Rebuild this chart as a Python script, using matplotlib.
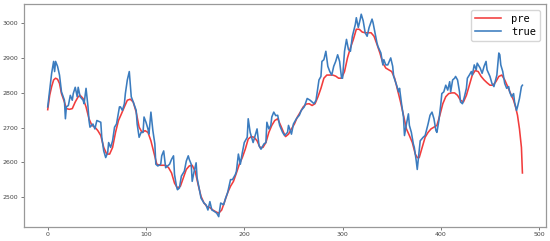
import matplotlib
matplotlib.use("Agg")
import matplotlib.pyplot as plt

# true series (index, value)
true_x = [0, 2, 4, 6, 7, 8, 10, 12, 14, 17, 18, 19, 21, 23, 25, 26, 28, 30, 31, 33, 36, 37, 39, 41, 42, 43, 46, 48, 50, 54,
          55, 57, 59, 61, 62, 64, 66, 68, 70, 73, 74, 76, 78, 79, 81, 83, 85, 87, 90, 91, 93, 95, 97, 98, 100, 102, 103, 105, 107, 109,
          110, 112, 115, 116, 118, 120, 122, 124, 126, 128, 129, 131, 132, 134, 136, 139, 141, 143, 144, 146, 147, 149, 151, 152, 155, 156, 159, 161, 163, 165,
          167, 169, 172, 174, 176, 179, 181, 183, 186, 188, 191, 192, 194, 196, 198, 200, 203, 204, 206, 209, 211, 213, 215, 217, 220, 222, 223, 225, 227, 228,
          230, 232, 234, 236, 239, 241, 244, 245, 248, 250, 253, 256, 258, 261, 264, 267, 269, 271, 273, 276, 278, 279, 281, 283, 285, 287, 289, 291, 293, 295,
          297, 299, 300, 302, 304, 306, 308, 310, 313, 314, 316, 318, 319, 321, 323, 325, 327, 330, 331, 333, 335, 336, 339, 341, 342, 344, 346, 349, 351, 352,
          355, 357, 358, 360, 362, 363, 365, 367, 368, 370, 372, 373, 375, 376, 378, 379, 382, 384, 387, 389, 391, 393, 395, 396, 398, 400, 401, 403, 405, 407,
          409, 410, 412, 414, 415, 417, 419, 420, 422, 424, 426, 427, 429, 431, 432, 434, 436, 437, 440, 442, 444, 446, 447, 450, 452, 454, 457, 459, 460, 461,
          463, 465, 467, 469, 470, 472, 474, 475, 477, 478, 480, 482, 483]
true_y = [2759, 2807, 2855, 2889, 2860, 2889, 2875, 2850, 2802, 2778, 2725, 2759, 2763, 2792, 2778, 2797, 2815, 2788, 2815, 2788, 2778, 2768, 2812, 2759, 2720, 2701, 2710, 2696, 2720, 2715,
          2672, 2633, 2614, 2628, 2657, 2643, 2662, 2701, 2710, 2759, 2759, 2749, 2768, 2797, 2836, 2860, 2788, 2773, 2749, 2710, 2672, 2686, 2686, 2730, 2715, 2696, 2681, 2744, 2691, 2653,
          2595, 2590, 2595, 2619, 2633, 2585, 2590, 2595, 2609, 2619, 2566, 2532, 2522, 2527, 2561, 2575, 2604, 2619, 2609, 2595, 2546, 2575, 2599, 2556, 2513, 2498, 2484, 2479, 2464, 2488,
          2464, 2461, 2455, 2445, 2484, 2479, 2498, 2513, 2551, 2551, 2566, 2575, 2624, 2595, 2628, 2657, 2672, 2725, 2686, 2657, 2677, 2696, 2648, 2638, 2653, 2657, 2715, 2696, 2706, 2730,
          2744, 2734, 2735, 2706, 2686, 2677, 2686, 2706, 2681, 2710, 2725, 2735, 2749, 2759, 2783, 2778, 2773, 2768, 2778, 2836, 2846, 2889, 2894, 2918, 2875, 2860, 2850, 2875, 2889, 2908,
          2889, 2841, 2841, 2918, 2952, 2923, 2918, 2961, 2995, 3014, 2986, 3010, 3024, 3005, 2971, 2961, 2986, 3010, 3000, 2971, 2942, 2932, 2913, 2879, 2894, 2879, 2879, 2899, 2875, 2846,
          2821, 2802, 2812, 2768, 2730, 2677, 2710, 2739, 2706, 2686, 2653, 2643, 2604, 2580, 2633, 2662, 2672, 2677, 2710, 2735, 2744, 2725, 2691, 2686, 2720, 2768, 2797, 2802, 2821, 2807,
          2831, 2802, 2836, 2841, 2846, 2836, 2802, 2773, 2768, 2788, 2812, 2841, 2850, 2860, 2850, 2879, 2865, 2884, 2870, 2855, 2875, 2889, 2865, 2846, 2826, 2817, 2850, 2913, 2908, 2879,
          2860, 2826, 2812, 2817, 2802, 2788, 2797, 2773, 2749, 2759, 2783, 2817, 2821]

# predicted series (index, value)
pre_x = [0, 2, 4, 6, 8, 10, 12, 14, 17, 19, 22, 25, 28, 31, 33, 36, 39, 42, 45, 48, 51, 54, 57, 60, 63, 66, 69, 72, 75, 78,
         81, 84, 87, 90, 93, 96, 99, 102, 105, 108, 111, 114, 117, 120, 123, 126, 129, 132, 135, 138, 141, 144, 147, 150, 153, 156, 159, 162, 165, 168,
         171, 174, 177, 180, 183, 186, 189, 192, 195, 198, 201, 204, 207, 210, 213, 216, 219, 222, 225, 228, 231, 234, 237, 240, 242, 245, 248, 251, 254, 257,
         260, 263, 266, 269, 272, 275, 278, 281, 284, 287, 290, 293, 296, 299, 302, 305, 308, 311, 314, 317, 320, 323, 326, 329, 332, 335, 338, 341, 344, 347,
         350, 353, 356, 359, 362, 365, 368, 371, 374, 376, 378, 381, 384, 387, 390, 393, 396, 399, 402, 405, 408, 411, 414, 417, 420, 423, 426, 429, 432, 435,
         438, 441, 444, 447, 450, 453, 456, 459, 462, 465, 468, 471, 474, 476, 478, 480, 482, 483]
pre_y = [2751, 2792, 2817, 2836, 2841, 2838, 2826, 2797, 2773, 2754, 2752, 2754, 2773, 2788, 2792, 2783, 2759, 2725, 2706, 2701, 2691, 2677, 2643, 2624, 2624, 2643, 2686, 2720, 2739, 2759,
         2778, 2781, 2773, 2744, 2701, 2686, 2691, 2686, 2662, 2628, 2595, 2592, 2592, 2592, 2585, 2570, 2541, 2527, 2532, 2556, 2580, 2590, 2592, 2575, 2537, 2503, 2484, 2474, 2471, 2464,
         2459, 2455, 2464, 2488, 2513, 2532, 2546, 2570, 2595, 2614, 2638, 2667, 2674, 2672, 2662, 2643, 2643, 2657, 2686, 2706, 2720, 2725, 2706, 2686, 2674, 2681, 2696, 2710, 2730, 2744,
         2759, 2767, 2768, 2763, 2768, 2788, 2812, 2841, 2850, 2850, 2850, 2847, 2841, 2841, 2860, 2899, 2928, 2952, 2981, 2981, 2973, 2971, 2971, 2971, 2961, 2938, 2913, 2884, 2870, 2865,
         2860, 2841, 2807, 2773, 2735, 2696, 2677, 2657, 2624, 2614, 2614, 2643, 2672, 2686, 2696, 2701, 2706, 2735, 2768, 2788, 2797, 2799, 2799, 2792, 2778, 2773, 2792, 2821, 2850, 2863,
         2860, 2846, 2836, 2828, 2821, 2821, 2831, 2846, 2850, 2836, 2817, 2797, 2778, 2759, 2735, 2696, 2643, 2570]

x_ticks = [0, 100, 200, 300, 400, 500]
y_ticks = [2500, 2600, 2700, 2800, 2900, 3000]

fig = plt.figure(figsize=(5.5, 2.41), dpi=100)
ax = fig.add_axes([0.0436, 0.059, 0.9494, 0.924])
ax.plot(pre_x, pre_y, color='#f23c3c', lw=1.15, label='pre')
ax.plot(true_x, true_y, color='#3b7cbf', lw=1.15, label='true')
ax.set_xticks(x_ticks)
ax.set_yticks(y_ticks)
ax.tick_params(labelsize=4.5, length=2, width=0.5, pad=2, colors='#444444')
for s in ax.spines.values():
    s.set_color('#999999')
    s.set_linewidth(0.9)
leg = ax.legend(loc='upper right', prop={'family': 'DejaVu Sans Mono', 'size': 7.5},
                handlelength=2.5, borderpad=0.35, labelspacing=0.3, handletextpad=1.0,
                borderaxespad=0.6)
fig.savefig('out.png', dpi=100)
